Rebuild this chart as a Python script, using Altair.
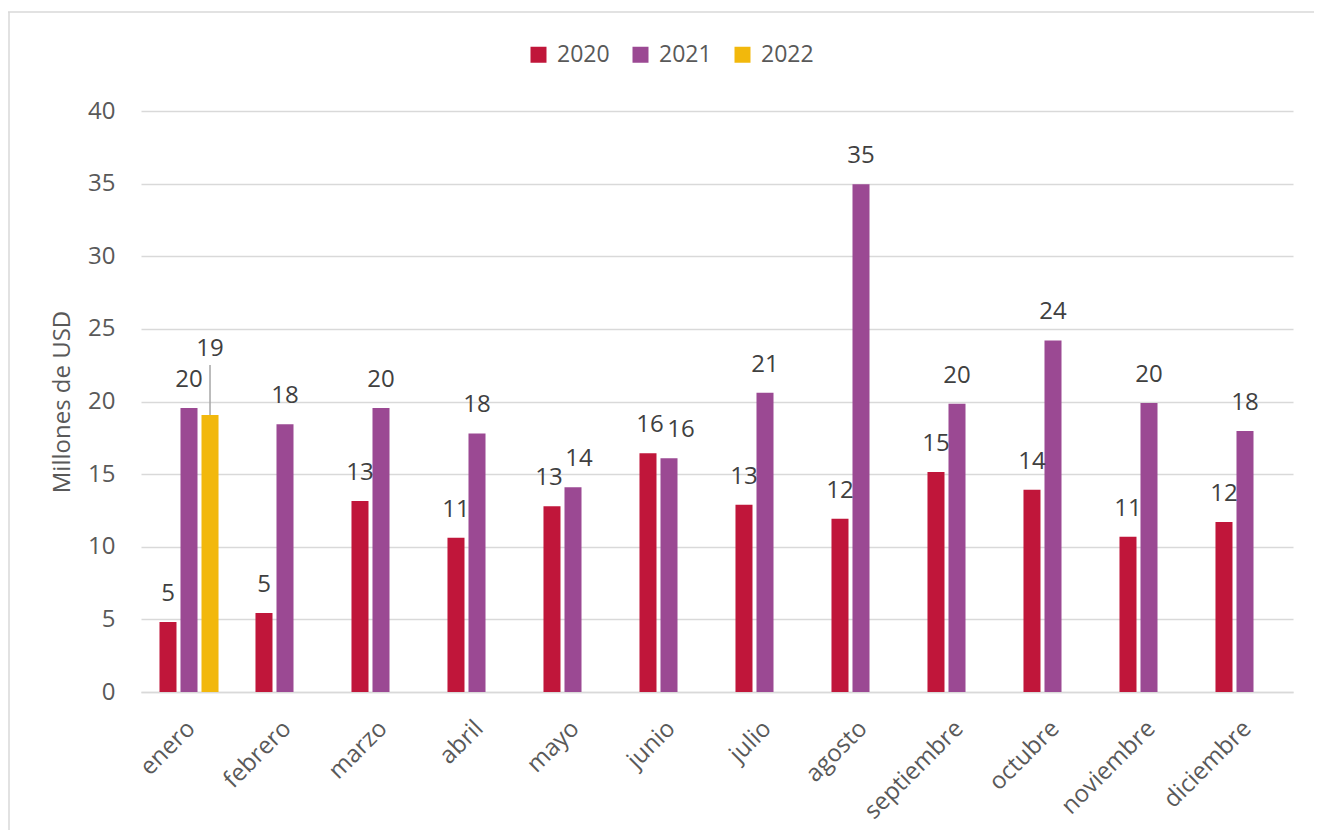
import altair as alt
import pandas as pd

months = ["enero", "febrero", "marzo", "abril", "mayo", "junio", "julio",
          "agosto", "septiembre", "octubre", "noviembre", "diciembre"]
years = ["2020", "2021", "2022"]
v2020 = [4.82, 5.44, 13.15, 10.62, 12.78, 16.44, 12.90, 11.93, 15.15, 13.93, 10.69, 11.70]
v2021 = [19.55, 18.43, 19.55, 17.80, 14.10, 16.10, 20.60, 34.95, 19.85, 24.20, 19.90, 17.97]
v2022 = [19.07, None, None, None, None, None, None, None, None, None, None, None]
colors = ["#C0163A", "#9B4993", "#F2B80C"]

rows = []
for i, m in enumerate(months):
    for yr, vals in zip(years, [v2020, v2021, v2022]):
        if vals[i] is not None:
            rows.append({"mes": m, "anio": yr, "valor": vals[i]})
df = pd.DataFrame(rows)

FONT = "Open Sans"
TXT = "#595959"
LBL = "#404040"
GRID = "#d9d9d9"
YTITLE = "Millones de USD"

x_enc = alt.X("mes:N", sort=months,
              scale=alt.Scale(paddingInner=0.385, paddingOuter=0.1925),
              axis=alt.Axis(title=None, labelAngle=-45, labelFontSize=24,
                            labelColor=TXT, labelPadding=24, labelOffset=-6,
                            ticks=False, domainColor=GRID, domainWidth=1.5,
                            grid=False, labelFont=FONT))
xo_enc = alt.XOffset("anio:N", sort=years,
                     scale=alt.Scale(domain=years, paddingInner=0.19, paddingOuter=0))


def y_enc(field):
    return alt.Y(field, title=YTITLE, scale=alt.Scale(domain=[0, 40]),
                 axis=alt.Axis(values=list(range(0, 41, 5)), labelFontSize=24,
                               labelColor=TXT, labelPadding=26, ticks=False,
                               domain=False, gridColor=GRID, gridWidth=1.3,
                               titleFontSize=24, titleColor=TXT,
                               titleFontWeight="normal", titlePadding=13,
                               labelFont=FONT, titleFont=FONT))


base = alt.Chart(df)

bars = base.mark_bar().encode(
    x=x_enc, xOffset=xo_enc, y=y_enc("valor:Q"),
    color=alt.Color("anio:N", sort=years,
                    scale=alt.Scale(domain=years, range=colors),
                    legend=alt.Legend(title=None)),
)

shifted = "(datum.mes == 'mayo' || datum.mes == 'junio')"

text_common = dict(baseline="alphabetic", fontSize=24, color=LBL, font=FONT)
text_enc = dict(x=x_enc, xOffset=xo_enc, y=y_enc("valor:Q"),
                text=alt.Text("valor:Q", format=".0f"))

labels = base.transform_filter(
    f"datum.anio != '2022' && !{shifted}"
).mark_text(dy=-21, **text_common).encode(**text_enc)

lab_may20 = base.transform_filter(
    "datum.mes == 'mayo' && datum.anio == '2020'"
).mark_text(dy=-21, dx=-3, **text_common).encode(**text_enc)
lab_may21 = base.transform_filter(
    "datum.mes == 'mayo' && datum.anio == '2021'"
).mark_text(dy=-21, dx=6, **text_common).encode(**text_enc)
lab_jun20 = base.transform_filter(
    "datum.mes == 'junio' && datum.anio == '2020'"
).mark_text(dy=-21, dx=2, **text_common).encode(**text_enc)
lab_jun21 = base.transform_filter(
    "datum.mes == 'junio' && datum.anio == '2021'"
).mark_text(dy=-21, dx=12, **text_common).encode(**text_enc)

lead = base.transform_filter("datum.anio == '2022'").transform_calculate(
    top="datum.valor + 3.45")

leader = lead.mark_rule(color="#a6a6a6", strokeWidth=1.5).encode(
    x=x_enc, xOffset=xo_enc, y=y_enc("valor:Q"), y2="top:Q")
lab22 = lead.mark_text(dy=-9, **text_common).encode(
    x=x_enc, xOffset=xo_enc, y=y_enc("top:Q"),
    text=alt.Text("valor:Q", format=".0f"))

frame_df = pd.DataFrame({"k": [0]})
frame_top = alt.Chart(frame_df).mark_rule(color=GRID, strokeWidth=1.5).encode(
    x=alt.value(-133), x2=alt.value(1173), y=alt.value(-99))
frame_left = alt.Chart(frame_df).mark_rule(color=GRID, strokeWidth=1.5).encode(
    x=alt.value(-132), y=alt.value(-99), y2=alt.value(719))

chart = alt.layer(
    frame_top, frame_left, bars, labels, lab_may20, lab_may21, lab_jun20,
    lab_jun21, leader, lab22
).properties(
    width=1152, height=581,
    autosize=alt.AutoSizeParams(type="none"),
    padding={"left": 133, "top": 103, "right": 21, "bottom": 138},
).configure(font=FONT).configure_view(stroke=None).configure_legend(
    orient="none", legendX=386, legendY=-68, direction="horizontal",
    symbolType="square", symbolSize=256, labelFontSize=23, labelColor=TXT,
    columnPadding=19, labelOffset=7, padding=0, symbolStrokeWidth=0,
    labelFont=FONT,
)

chart.save("out.html", embed_options={"renderer": "svg", "actions": False})
